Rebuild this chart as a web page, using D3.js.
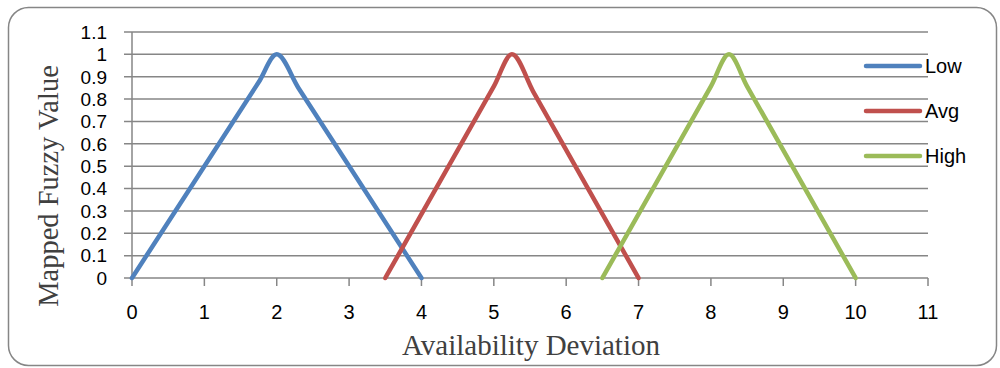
<!doctype html>
<html>
<head>
<meta charset="utf-8">
<title>Mapped Fuzzy Value</title>
<style>
  body { margin: 0; background: #fff; }
  svg text { fill: #000; }
</style>
</head>
<body>
<div id="chart"></div>
<script src="https://d3js.org/d3.v7.min.js"></script>
<script>
// data
var seriesNames = ["Low", "Avg", "High"];
var seriesColors = ["#4f81bd", "#c0504d", "#9bbb59"];
var lowPoints  = [[0, 0], [1.75, 0.875], [2, 1], [2.3, 0.85], [4, 0]];
var avgPoints  = [[3.5, 0], [5, 0.857], [5.25, 1], [5.55, 0.83], [7, 0]];
var highPoints = [[6.5, 0], [8, 0.857], [8.25, 1], [8.5, 0.857], [10, 0]];
var xTicks = [0, 1, 2, 3, 4, 5, 6, 7, 8, 9, 10, 11];
var yTicks = [0, 0.1, 0.2, 0.3, 0.4, 0.5, 0.6, 0.7, 0.8, 0.9, 1, 1.1];

var w = 1000, h = 368;
var series = [lowPoints, avgPoints, highPoints];
var labelFont = "'Liberation Sans', Arial, sans-serif";

var svg = d3.select("#chart").append("svg").attr("width", w).attr("height", h);

// outer frame
svg.append("rect")
  .attr("x", 8.5).attr("y", 7.5).attr("width", 988).attr("height", 358)
  .attr("rx", 20).attr("ry", 20)
  .attr("fill", "#fff").attr("stroke", "#868686").attr("stroke-width", 1.5);

var x = d3.scaleLinear().domain([0, 11]).range([132, 928]);
var y = d3.scaleLinear().domain([0, 1.1]).range([278, 32]);

// gridlines
svg.append("g").selectAll("line").data(yTicks).enter().append("line")
  .attr("x1", x(0) - 8).attr("x2", x(11))
  .attr("y1", function(d){ return y(d); }).attr("y2", function(d){ return y(d); })
  .attr("stroke", "#868686").attr("stroke-width", 1.5);

// y axis line
svg.append("line")
  .attr("x1", x(0)).attr("x2", x(0)).attr("y1", y(1.1)).attr("y2", y(0))
  .attr("stroke", "#868686").attr("stroke-width", 1.5);

// x ticks
svg.append("g").selectAll("line").data(xTicks).enter().append("line")
  .attr("x1", function(d){ return x(d); }).attr("x2", function(d){ return x(d); })
  .attr("y1", y(0)).attr("y2", y(0) + 8)
  .attr("stroke", "#868686").attr("stroke-width", 1.5);

// tick labels
svg.append("g").selectAll("text").data(yTicks).enter().append("text")
  .attr("x", 107).attr("y", function(d){ return y(d); })
  .attr("dy", "0.36em").attr("text-anchor", "end")
  .style("font-family", labelFont).style("font-size", "19px")
  .text(function(d){ return d3.format("~g")(d); });

svg.append("g").selectAll("text").data(xTicks).enter().append("text")
  .attr("x", function(d){ return x(d); }).attr("y", 312)
  .attr("dy", "0.36em").attr("text-anchor", "middle")
  .style("font-family", labelFont).style("font-size", "20px")
  .text(function(d){ return d; });

// series
var line = d3.line()
  .x(function(d){ return x(d[0]); })
  .y(function(d){ return y(d[1]); })
  .curve(d3.curveMonotoneX);

svg.append("g").selectAll("path").data(series).enter().append("path")
  .attr("d", line)
  .attr("fill", "none")
  .attr("stroke", function(d, i){ return seriesColors[i]; })
  .attr("stroke-width", 4.5)
  .attr("stroke-linecap", "round")
  .attr("stroke-linejoin", "round");

// legend
var leg = svg.append("g").selectAll("g").data(seriesNames).enter().append("g")
  .attr("transform", function(d, i){ return "translate(0," + (66 + i * 45) + ")"; });
leg.append("line")
  .attr("x1", 866).attr("x2", 920).attr("y1", 0).attr("y2", 0)
  .attr("stroke", function(d, i){ return seriesColors[i]; })
  .attr("stroke-width", 4.5).attr("stroke-linecap", "round");
leg.append("text")
  .attr("x", 925).attr("y", 0).attr("dy", "0.36em")
  .style("font-family", labelFont).style("font-size", "20px")
  .text(function(d){ return d; });

// axis titles
svg.append("text")
  .attr("x", 531).attr("y", 355).attr("text-anchor", "middle")
  .style("font", "29px 'Liberation Serif', serif").style("fill", "#404040")
  .text("Availability Deviation");
svg.append("text")
  .attr("transform", "translate(48,186) rotate(-90)")
  .attr("text-anchor", "middle").attr("dy", "0.35em")
  .style("font", "28.5px 'Liberation Serif', serif").style("fill", "#404040")
  .text("Mapped Fuzzy Value");
</script>
</body>
</html>
